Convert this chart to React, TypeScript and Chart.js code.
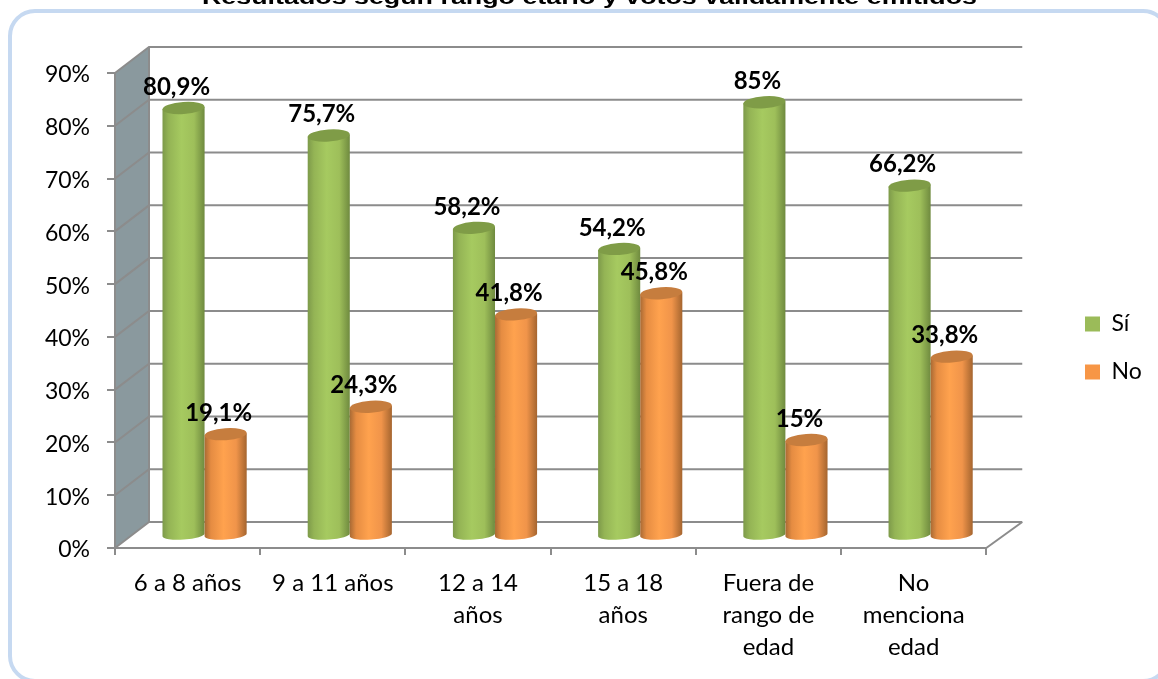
import React, { useEffect, useRef } from "react";
import { Chart, registerables } from "chart.js";

Chart.register(...registerables);

const categories = [
  "6 a 8 años",
  "9 a 11 años",
  ["12 a 14", "años"],
  ["15 a 18", "años"],
  ["Fuera de", "rango de", "edad"],
  ["No", "menciona", "edad"],
];
const siValues = [80.9, 75.7, 58.2, 54.2, 82, 66.2];
const noValues = [19.1, 24.3, 41.8, 45.8, 18, 33.8];
const siLabels = ["80,9%", "75,7%", "58,2%", "54,2%", "85%", "66,2%"];
const noLabels = ["19,1%", "24,3%", "41,8%", "45,8%", "15%", "33,8%"];
const titleText = "Resultados según rango etario y votos válidamente emitidos";

const FONT = "Lato, 'Open Sans', sans-serif";
const GREY = "#8c8c8c";
const DX_L = 34;
const DX_R = 36;
const DY = 26;
const BAR_DX = 17;
const BAR_DY = 13;

const palettes = [
  { stops: ["#7d9a4a", "#94b455", "#a6ca60", "#9ebf5a", "#6f8a3f"], top: "#7f9c47" },
  { stops: ["#a96a34", "#e58c42", "#ffa24e", "#f0944a", "#a5652f"], top: "#c67d3e" },
];

const cylinderPlugin = {
  id: "cylinder",
  afterLayout(chart: any) {
    const lg = chart.legend;
    if (lg) {
      lg.left = 1060;
      lg.right = 1158;
      lg.top = 73;
      lg.bottom = 623;
    }
  },
  beforeDraw(chart: any) {
    const { ctx, width, height } = chart;
    const x = chart.scales.x;
    const y = chart.scales.y;
    const l = x.left;
    const r = x.right;
    const b = y.getPixelForValue(0);
    const t = y.getPixelForValue(90);
    ctx.save();
    ctx.fillStyle = "#ffffff";
    ctx.fillRect(0, 0, width, height);
    // frame
    ctx.strokeStyle = "#c6d9f1";
    ctx.lineWidth = 4;
    ctx.beginPath();
    ctx.roundRect(10, 11, 1158, 670, 25);
    ctx.stroke();
    // title, cut by the top of the picture as in the source
    ctx.fillStyle = "#000000";
    ctx.font = "bold 21px 'Liberation Sans', Arial, sans-serif";
    ctx.textAlign = "left";
    ctx.textBaseline = "alphabetic";
    const w = ctx.measureText(titleText).width;
    ctx.save();
    ctx.translate(202, 4);
    ctx.scale(775 / w, 1);
    ctx.fillText(titleText, 0, 0);
    ctx.restore();
    // side wall
    ctx.fillStyle = "#8a999e";
    ctx.beginPath();
    ctx.moveTo(l, b);
    ctx.lineTo(l + DX_L, b - DY);
    ctx.lineTo(l + DX_L, t - DY);
    ctx.lineTo(l, t);
    ctx.closePath();
    ctx.fill();
    ctx.strokeStyle = GREY;
    ctx.lineWidth = 2;
    y.ticks.forEach((tk: any) => {
      const py = y.getPixelForValue(tk.value);
      ctx.beginPath();
      ctx.moveTo(l, py);
      ctx.lineTo(l + DX_L, py - DY);
      ctx.lineTo(r + DX_R, py - DY);
      ctx.stroke();
    });
    ctx.beginPath();
    ctx.moveTo(l + DX_L, b - DY);
    ctx.lineTo(l + DX_L, t - DY);
    ctx.moveTo(r, b);
    ctx.lineTo(r + DX_R, b - DY);
    ctx.stroke();
    ctx.restore();
  },
  beforeDatasetDraw() {
    return false;
  },
  afterDatasetsDraw(chart: any) {
    const { ctx } = chart;
    [0, 1].forEach((d) => {
      const pal = palettes[d];
      chart.getDatasetMeta(d).data.forEach((el: any) => {
        const { x, y, base, width } = el.getProps(["x", "y", "base", "width"], true);
        const cx = x + BAR_DX;
        const top = y - BAR_DY;
        const bot = base - BAR_DY + 1;
        const rx = width / 2;
        const tilt = -0.07;
        const g = ctx.createLinearGradient(cx - rx, 0, cx + rx, 0);
        g.addColorStop(0, pal.stops[0]);
        g.addColorStop(0.15, pal.stops[1]);
        g.addColorStop(0.45, pal.stops[2]);
        g.addColorStop(0.75, pal.stops[3]);
        g.addColorStop(1, pal.stops[4]);
        ctx.save();
        ctx.fillStyle = g;
        ctx.beginPath();
        ctx.moveTo(cx - rx, top + 1);
        ctx.lineTo(cx - rx, bot + 1);
        ctx.ellipse(cx, bot, rx, 4.5, tilt, Math.PI, 0, true);
        ctx.lineTo(cx + rx, top - 1);
        ctx.closePath();
        ctx.fill();
        ctx.fillStyle = pal.top;
        ctx.beginPath();
        ctx.ellipse(cx, top, rx, 6, tilt, 0, Math.PI * 2);
        ctx.fill();
        ctx.restore();
      });
    });
    ctx.save();
    ctx.fillStyle = "#000000";
    ctx.font = `bold 24px ${FONT}`;
    ctx.textAlign = "center";
    ctx.textBaseline = "middle";
    [siLabels, noLabels].forEach((texts, d) => {
      chart.getDatasetMeta(d).data.forEach((el: any, i: number) => {
        ctx.fillText(texts[i], el.x + BAR_DX - 7, el.y - BAR_DY - 21);
      });
    });
    ctx.restore();
  },
};

export default function App() {
  const ref = useRef<HTMLCanvasElement | null>(null);
  useEffect(() => {
    document.body.style.margin = "0";
    const chart = new Chart(ref.current as HTMLCanvasElement, {
      type: "bar",
      data: {
        labels: categories as any,
        datasets: [
          { label: "Sí", data: siValues, backgroundColor: "#9bbb59" },
          { label: "No", data: noValues, backgroundColor: "#f79646" },
        ],
      },
      plugins: [cylinderPlugin],
      options: {
        responsive: false,
        animation: false,
        events: [],
        layout: { padding: { top: 73, bottom: 0, left: 0, right: 80 } },
        datasets: { bar: { categoryPercentage: 0.58, barPercentage: 1 } },
        scales: {
          x: {
            afterFit: (s: any) => { s.height = 131; },
            grid: { drawOnChartArea: false, color: GREY, lineWidth: 2, tickLength: 7, offset: true },
            border: { color: GREY, width: 2 },
            ticks: {
              autoSkip: false,
              maxRotation: 0,
              minRotation: 0,
              padding: 12,
              color: "#000000",
              font: { family: FONT, size: 24, lineHeight: 1.333 },
            },
          },
          y: {
            min: 0,
            max: 90,
            afterFit: (s: any) => { s.width = 115; },
            grid: { drawOnChartArea: false, color: GREY, lineWidth: 2, tickLength: 8 },
            border: { color: GREY, width: 2 },
            ticks: {
              stepSize: 10,
              padding: 17,
              labelOffset: 2,
              color: "#000000",
              callback: (v: any) => `${v}%`,
              font: { family: FONT, size: 23 },
            },
          },
        },
        plugins: {
          title: { display: false },
          tooltip: { enabled: false },
          legend: {
            position: "right",
            labels: {
              boxWidth: 15,
              boxHeight: 15,
              padding: 25,
              color: "#000000",
              font: { family: FONT, size: 23 },
            },
          },
        },
      } as any,
    });
    return () => chart.destroy();
  }, []);
  return (
    <div style={{ position: "absolute", left: 0, top: 0, width: 1158, height: 679, overflow: "hidden" }}>
      <canvas ref={ref} width={1158} height={679} style={{ display: "block" }} />
    </div>
  );
}
